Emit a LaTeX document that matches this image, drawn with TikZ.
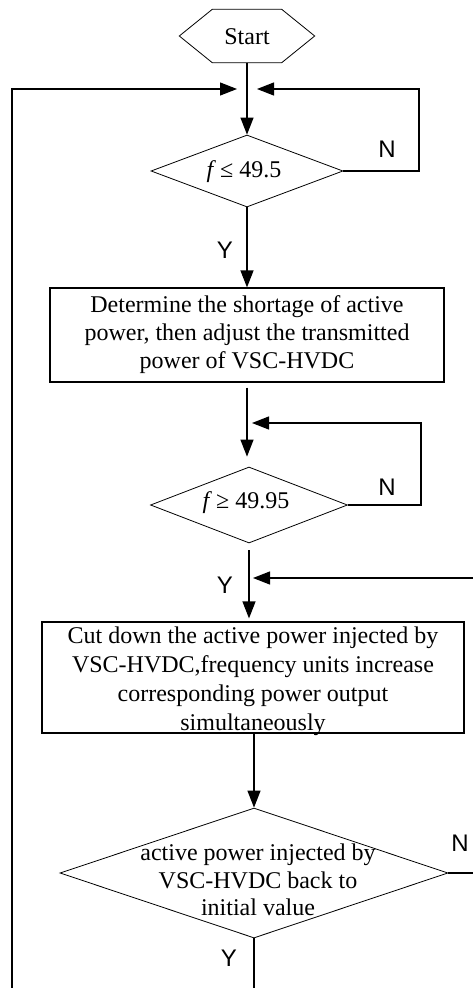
\documentclass[tikz,border=0pt]{standalone}
\usepackage{fontspec}
\setmainfont{Liberation Serif}
\newfontfamily\lsans{Liberation Sans}
\usetikzlibrary{shapes.geometric,arrows.meta}
\begin{document}
\begin{tikzpicture}[x=1pt,y=-1pt,
  txt/.style={align=center,font=\fontsize{24}{28}\selectfont,inner sep=0},
  lbl/.style={font=\lsans\fontsize{24}{24}\selectfont,inner sep=0},
  dia/.style={diamond,draw,line width=0.8pt,inner sep=0},
  boxnode/.style={rectangle,draw,line width=1.2pt,inner sep=0},
  conn/.style={line width=1.2pt},
  arr/.style={conn,-{Triangle[length=17pt,width=13pt]}},
]
\useasboundingbox (0,0) rectangle (473,988);
% start
\node[inner sep=0,minimum width=135pt,minimum height=53pt] (start) at (247,36) {};
\draw[line width=0.8pt] ([xshift=33pt]start.north west) -- ([xshift=-33pt]start.north east) -- (start.east)
  -- ([xshift=-33pt]start.south east) -- ([xshift=33pt]start.south west) -- (start.west) -- cycle;
\node[txt] (starttxt) at (247,37) {Start};
% decision 1
\node[dia,minimum width=192pt,minimum height=72pt] (d1) at (247,171) {};
\node[txt] (d1t) at (244,172) {\textit{f}\,≤ 49.5};
% box 1
\node[boxnode,minimum width=394pt,minimum height=94pt] (b1) at (247,335) {};
\node[txt] (b1t) at (247,335) {Determine the shortage of active\\power, then adjust the transmitted\\power of VSC-HVDC};
% decision 2
\node[dia,minimum width=197pt,minimum height=76pt] (d2) at (249,505) {};
\node[txt] (d2t) at (246,503) {\textit{f}\,≥ 49.95};
% box 2
\node[boxnode,minimum width=422pt,minimum height=111pt] (b2) at (253,677.5) {};
\node[txt,font=\fontsize{24}{29}\selectfont] (b2t) at (253,681) {Cut down the active power injected by\\VSC-HVDC,frequency units increase\\corresponding power output\\simultaneously};
% decision 3
\node[dia,minimum width=388pt,minimum height=130pt] (d3) at (254,873) {};
\node[txt,font=\fontsize{24}{27.5}\selectfont] (d3t) at (258,880) {active power injected by\\VSC-HVDC back to\\initial value};
% labels
\node[lbl] (n1) at (387,149) {N};
\node[lbl] (n2) at (387,487) {N};
\node[lbl] (n3) at (460,843) {N};
\node[lbl] (y1) at (225,250) {Y};
\node[lbl] (y2) at (225,585) {Y};
\node[lbl] (y3) at (229,958) {Y};
% coordinates
\coordinate (jl) at (237,89);
\coordinate (jr) at (257,89);
\coordinate (bl) at (12,988);
\coordinate (r1) at (419,171);
\coordinate (r1t) at (419,89);
\coordinate (r2) at (421,505);
\coordinate (r2t) at (421,423);
\coordinate (j2) at (252,423);
\coordinate (r3in) at (473,578);
\coordinate (j3) at (253,578);
\coordinate (r3out) at (473,873);
\coordinate (bot) at (254,988);
% connectors
\draw[arr] (start.south) -- (d1.north);
\draw[arr] (bl) |- (jl);
\draw[arr] (d1.east) -- (r1) -- (r1t) -- (jr);
\draw[arr] (d1.south) -- (b1.north);
\draw[arr] ([yshift=-5pt]b1.south) -- ([yshift=10pt]b1.south |- d2.north);
\draw[arr] (d2.east) -- (r2) -- (r2t) -- (j2);
\draw[arr] ([yshift=-7pt]d2.south) -- ([yshift=3pt]d2.south |- b2.north);
\draw[arr] (r3in) -- (j3);
\draw[arr] (b2.south -| d3.north) -- (d3.north);
\draw[conn] (d3.east) -- (r3out);
\draw[conn] (d3.south) -- (bot);
\end{tikzpicture}
\end{document}
